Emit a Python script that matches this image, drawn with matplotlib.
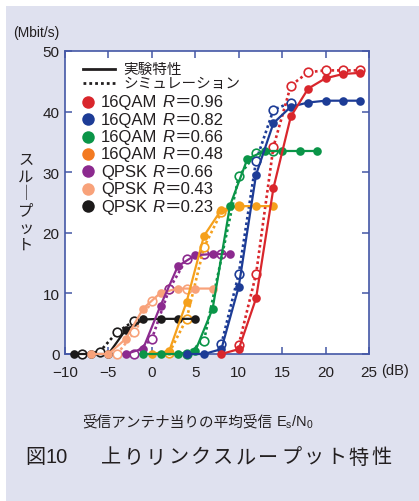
import matplotlib
matplotlib.use("Agg")
import matplotlib.pyplot as plt
from matplotlib.patches import Rectangle

plt.rcParams['font.family'] = ['Liberation Sans', 'Noto Sans CJK JP', 'DejaVu Sans']
plt.rcParams['mathtext.fontset'] = 'custom'
plt.rcParams['mathtext.rm'] = 'Liberation Sans'
plt.rcParams['mathtext.it'] = 'Liberation Sans:italic'

# ---- data (Es/N0 in dB, throughput in Mbit/s) ----
modulations = ["16QAM", "16QAM", "16QAM", "16QAM", "QPSK", "QPSK", "QPSK"]
rates = ["0.96", "0.82", "0.66", "0.48", "0.66", "0.43", "0.23"]
colors = ["#d9262c", "#1d3c96", "#0a9548", "#f5a01c", "#8c2a8f", "#f8a27a", "#1c1a1a"]
legend_colors = ["#d9262c", "#1d3c96", "#0a9548", "#f37a21", "#8c2a8f", "#f8a27a", "#1c1a1a"]

# experimental (filled markers, solid lines)
exp_16q096_x = [8, 10, 12, 14, 16, 18, 20, 22, 24]
exp_16q096_y = [0, 0.8, 9.2, 27.4, 39.2, 43.8, 45.5, 46.2, 46.4]
exp_16q082_x = [4, 6, 8, 10, 12, 14, 16, 18, 20, 22, 24]
exp_16q082_y = [0, 0, 0.8, 11.1, 29.6, 38.1, 40.8, 41.5, 41.8, 41.8, 41.8]
exp_16q066_x = [-1, 1, 3, 5, 7, 9, 11, 13, 15, 17, 19]
exp_16q066_y = [0, 0, 0, 0.5, 7.5, 24.5, 32.2, 33.5, 33.5, 33.5, 33.5]
exp_16q048_x = [0, 2, 4, 6, 8, 10, 12, 14]
exp_16q048_y = [0, 0.5, 8.6, 19.5, 23.8, 24.4, 24.4, 24.4]
exp_qp066_x = [-3, -1, 1, 3, 5, 7, 9]
exp_qp066_y = [0, 0.9, 8.0, 14.5, 16.3, 16.5, 16.5]
exp_qp043_x = [-7, -5, -3, -1, 1, 3, 5, 7]
exp_qp043_y = [0, 0, 2.5, 7.5, 10.1, 10.8, 10.8, 10.8]
exp_qp023_x = [-9, -7, -5, -3, -1, 1, 3, 5]
exp_qp023_y = [0, 0, 0, 4.0, 5.7, 5.8, 5.8, 5.8]

# simulation (open markers, dotted lines)
sim_16q096_x = [10, 12, 14, 16, 18, 20, 22, 24]
sim_16q096_y = [1.5, 13.2, 34.2, 44.3, 46.5, 46.8, 46.8, 46.8]
sim_16q082_x = [8, 10, 12, 14, 16]
sim_16q082_y = [1.6, 13.2, 31.9, 40.3, 41.5]
sim_16q066_x = [4, 6, 10, 12, 14]
sim_16q066_y = [0, 2.2, 29.3, 33.1, 33.5]
sim_16q048_x = [2, 4, 6, 8, 10]
sim_16q048_y = [0.2, 5.8, 17.6, 23.4, 24.4]
sim_qp066_x = [-2, 0, 2, 4, 6, 8]
sim_qp066_y = [0, 2.5, 10.7, 15.7, 16.5, 16.5]
sim_qp043_x = [-4, -2, 0, 2, 4]
sim_qp043_y = [0, 3.6, 8.8, 10.8, 10.8]
sim_qp023_x = [-8, -6, -4, -2]
sim_qp023_y = [0, 0.4, 3.6, 5.5]

x_ticks = [-10, -5, 0, 5, 10, 15, 20, 25]
x_ticklabels = ["\u221210", "\u22125", "0", "5", "10", "15", "20", "25"]
y_ticks = [0, 10, 20, 30, 40, 50]

exp_sets = [(exp_16q096_x, exp_16q096_y), (exp_16q082_x, exp_16q082_y),
            (exp_16q066_x, exp_16q066_y), (exp_16q048_x, exp_16q048_y),
            (exp_qp066_x, exp_qp066_y), (exp_qp043_x, exp_qp043_y),
            (exp_qp023_x, exp_qp023_y)]
sim_sets = [(sim_16q096_x, sim_16q096_y), (sim_16q082_x, sim_16q082_y),
            (sim_16q066_x, sim_16q066_y), (sim_16q048_x, sim_16q048_y),
            (sim_qp066_x, sim_qp066_y), (sim_qp043_x, sim_qp043_y),
            (sim_qp023_x, sim_qp023_y)]

W, H = 419, 502
def fx(px):
    return px / W
def fy(py):
    return 1 - py / H

fig = plt.figure(figsize=(W / 100, H / 100), dpi=100)
fig.patch.set_facecolor('white')
fig.patches.append(Rectangle((fx(6), 0), 1, fy(7), transform=fig.transFigure,
                             facecolor='#dfe1ef', edgecolor='none', zorder=-10))

ax = fig.add_axes([fx(65), fy(355), 304 / W, 303 / H])
ax.set_facecolor('white')

spine_c = '#4457a6'
text_c = '#231f20'

# smaller throughput curves first so the big ones sit on top
for i in reversed(range(7)):
    c = colors[i]
    sx, sy = sim_sets[i]
    ax.plot(sx, sy, color=c, lw=1.9, linestyle=(0, (1, 1.1)), dash_capstyle='butt',
            marker='o', markersize=6.2, markerfacecolor='white', markeredgecolor=c,
            markeredgewidth=1.2, clip_on=False, zorder=3)
    ex, ey = exp_sets[i]
    ax.plot(ex, ey, color=c, lw=1.6, marker='o', markersize=6.2,
            markeredgewidth=0, clip_on=False, zorder=4)

ax.set_xlim(-10, 25)
ax.set_ylim(0, 50)
ax.set_xticks(x_ticks)
ax.set_yticks(y_ticks)
ax.set_xticklabels(x_ticklabels)
ax.tick_params(direction='in', length=5, width=1.1, color=spine_c,
               top=True, right=True, labelsize=11, labelcolor=text_c)
ax.tick_params(axis='x', pad=8)
ax.tick_params(axis='y', pad=4)
for s in ax.spines.values():
    s.set_color(spine_c)
    s.set_linewidth(1.2)

# ---- legend drawn by hand ----
def ax_y(py):
    return 1 - (py - 52) / 303
def ax_x(px):
    return (px - 65) / 304

ax.plot([ax_x(83), ax_x(115)], [ax_y(70), ax_y(70)], color=text_c, lw=2,
        transform=ax.transAxes, clip_on=False)
ax.text(ax_x(123), ax_y(70), "実験特性", transform=ax.transAxes, va='center',
        ha='left', fontsize=10.5, color=text_c)
ax.plot([ax_x(83), ax_x(115)], [ax_y(84), ax_y(84)], color=text_c, lw=2,
        linestyle=(0, (1, 1.1)), transform=ax.transAxes, clip_on=False)
ax.text(ax_x(123), ax_y(84), "シミュレーション", transform=ax.transAxes, va='center',
        ha='left', fontsize=10.5, color=text_c)
for i in range(7):
    yy = ax_y(102.7 + i * 17.4)
    ax.plot([ax_x(88)], [yy], 'o', color=legend_colors[i], markersize=9,
            markeredgewidth=0, transform=ax.transAxes, clip_on=False, zorder=6)
    t1 = ax.text(ax_x(101), yy, modulations[i], transform=ax.transAxes,
                 va='center', ha='left', fontsize=12, color=text_c, zorder=6)
    t2 = ax.annotate("R", xy=(1, 0.5), xycoords=t1, xytext=(3.5, 0),
                     textcoords='offset points', va='center', ha='left',
                     fontsize=12, style='italic', color=text_c, zorder=6)
    ax.annotate("\uff1d" + rates[i], xy=(1, 0.5), xycoords=t2, xytext=(0.5, 0),
                textcoords='offset points', va='center', ha='left',
                fontsize=12, color=text_c, zorder=6)

# ---- outer texts ----
fig.text(fx(36), fy(33), "(Mbit/s)", ha='center', va='center',
         fontsize=10, color=text_c)
fig.text(fx(381), fy(371), "(dB)", ha='left', va='center',
         fontsize=10.5, color=text_c)

ylab = ["ス", "ル", "\uff5c", "プ", "ッ", "ト"]
for i, ch in enumerate(ylab):
    fig.text(fx(26), fy(160 + i * 17), ch, ha='center', va='center',
             fontsize=11, color=text_c, family=['Noto Sans CJK JP'])

xl = fig.text(fx(82), fy(422), "受信アンテナ当りの平均受信", ha='left',
              va='center', fontsize=10.5, color=text_c,
              family=['Noto Sans CJK JP'])
ax.annotate("E$_\\mathrm{s}$/N$_\\mathrm{0}$", xy=(1, 0.5), xycoords=xl,
            xytext=(3, 0), textcoords='offset points', va='center', ha='left',
            fontsize=10.5, color=text_c, annotation_clip=False)

cap_chars = "上りリンクスループット特性"
fig.text(fx(35), fy(458), "図", ha='center', va='center', fontsize=14.5,
         color=text_c, family=['Noto Sans CJK JP'])
fig.text(fx(45), fy(458), "10", ha='left', va='center', fontsize=14.5,
         color=text_c)
for i, ch in enumerate(cap_chars):
    fig.text(fx(111 + i * 22.5), fy(458), ch, ha='center', va='center',
             fontsize=14.5, color=text_c, family=['Noto Sans CJK JP'])

fig.savefig("out.png", dpi=100, facecolor=fig.get_facecolor())
